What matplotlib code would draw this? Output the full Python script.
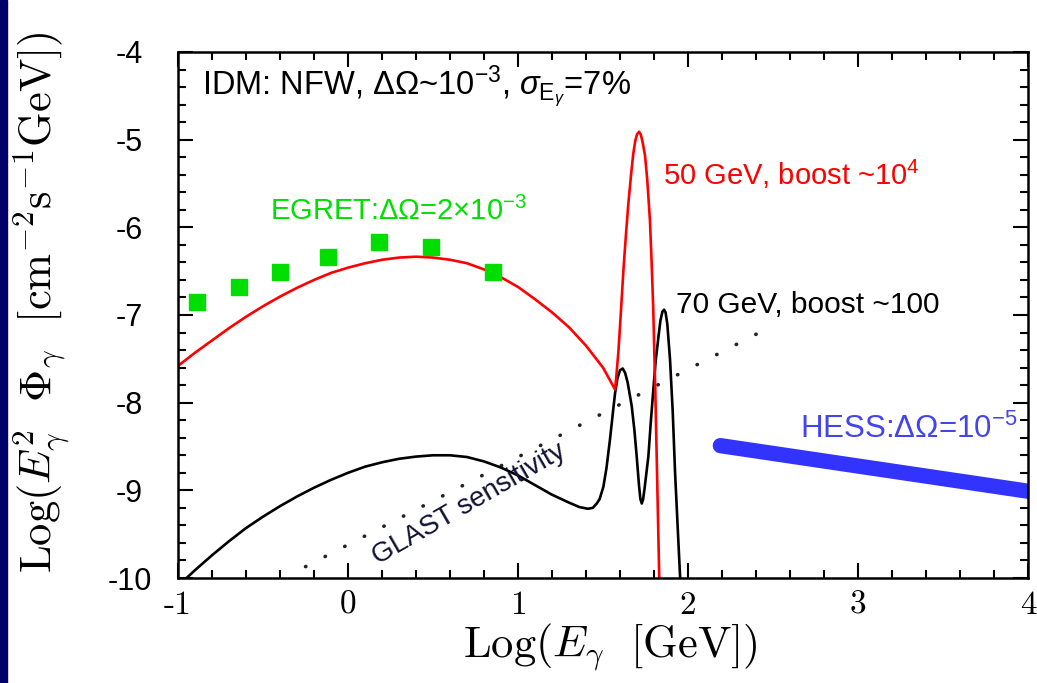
import matplotlib
matplotlib.use('Agg')
import matplotlib.pyplot as plt
from matplotlib.ticker import MultipleLocator
from matplotlib.patches import Rectangle

# data (log10 units)
red_x = [-1.00, -0.90, -0.80, -0.70, -0.60, -0.50, -0.40, -0.30, -0.20, -0.10,
         0.00, 0.10, 0.20, 0.30, 0.40, 0.50, 0.60, 0.70, 0.80, 0.90,
         1.00, 1.10, 1.20, 1.30, 1.40, 1.50, 1.571, 1.58, 1.59, 1.60,
         1.61, 1.62, 1.635, 1.649, 1.665, 1.678, 1.69, 1.70, 1.712, 1.722,
         1.732, 1.747, 1.76, 1.776, 1.786, 1.795, 1.808, 1.82, 1.833]
red_y = [-7.58, -7.43, -7.29, -7.15, -7.02, -6.90, -6.79, -6.69, -6.60, -6.52,
         -6.46, -6.41, -6.37, -6.345, -6.335, -6.345, -6.37, -6.41, -6.48, -6.57,
         -6.68, -6.82, -6.97, -7.14, -7.35, -7.60, -7.85, -7.66, -7.43, -7.13,
         -6.81, -6.49, -6.08, -5.73, -5.40, -5.16, -5.01, -4.94, -4.91, -4.94,
         -5.02, -5.18, -5.45, -5.92, -6.40, -6.90, -7.90, -9.00, -10.2]

blk_x = [-0.95, -0.90, -0.80, -0.70, -0.60, -0.50, -0.40, -0.30, -0.20, -0.10,
         0.00, 0.10, 0.20, 0.30, 0.40, 0.50, 0.60, 0.70, 0.80, 0.90,
         1.00, 1.10, 1.20, 1.30, 1.36, 1.41, 1.44, 1.463, 1.48, 1.502,
         1.52, 1.541, 1.56, 1.571, 1.585, 1.60, 1.616, 1.63, 1.645, 1.669,
         1.685, 1.698, 1.712, 1.72, 1.728, 1.736, 1.745, 1.767, 1.78, 1.796,
         1.81, 1.826, 1.838, 1.85, 1.859, 1.868, 1.878, 1.894, 1.91, 1.924,
         1.94, 1.955]
blk_y = [-10.0, -9.91, -9.74, -9.58, -9.43, -9.30, -9.18, -9.07, -8.97, -8.88,
         -8.80, -8.73, -8.68, -8.64, -8.615, -8.60, -8.60, -8.62, -8.67, -8.74,
         -8.83, -8.94, -9.05, -9.14, -9.19, -9.21, -9.20, -9.15, -9.10, -8.96,
         -8.75, -8.42, -8.08, -7.89, -7.72, -7.63, -7.61, -7.66, -7.77, -8.04,
         -8.32, -8.61, -8.95, -9.10, -9.15, -9.10, -8.97, -8.61, -8.25, -7.85,
         -7.52, -7.25, -7.06, -6.96, -6.94, -6.97, -7.10, -7.50, -8.10, -8.80,
         -9.45, -10.05]

egret_x = [-0.89, -0.64, -0.40, -0.12, 0.18, 0.49, 0.85]
egret_y = [-6.85, -6.68, -6.51, -6.34, -6.17, -6.23, -6.51]

glast_x = [-0.25, 2.42]
glast_y = [-9.87, -7.20]

hess_x = [2.19, 4.0]
hess_y = [-8.49, -9.01]

xticks = [-1, 0, 1, 2, 3, 4]
yticks = [-4, -5, -6, -7, -8, -9, -10]

plt.rcParams['axes.unicode_minus'] = False
plt.rcParams['mathtext.fontset'] = 'custom'
plt.rcParams['mathtext.rm'] = 'Liberation Sans'
plt.rcParams['mathtext.it'] = 'Liberation Sans:italic'
plt.rcParams['mathtext.bf'] = 'Liberation Sans:bold'
plt.rcParams['font.family'] = ['Liberation Sans', 'DejaVu Sans']

fig = plt.figure(figsize=(10.37, 6.83), dpi=100)
fig.patches.append(Rectangle((0, 0), 7 / 1037, 1, transform=fig.transFigure,
                             color='#000066', zorder=0))
ax = fig.add_axes([0.1717, 0.1537, 0.8196, 0.7702])

ax.plot(glast_x, glast_y, color='#222222', lw=2.6, linestyle=(0, (0.1, 6.0)),
        dash_capstyle='round')
ax.plot(hess_x, hess_y, color='#3333ff', lw=11, solid_capstyle='round')
ax.plot(blk_x, blk_y, color='black', lw=1.9)
ax.plot(red_x, red_y, color='red', lw=1.9)
ax.plot(egret_x, egret_y, 's', color='#00dd00', ms=11, mec='#00dd00')

ax.set_xlim(-1, 4)
ax.set_ylim(-10, -4)

ax.set_xticks(xticks, labels=[str(v) for v in xticks], fontfamily='cmr10', fontsize=24)
ax.set_yticks(yticks, labels=[str(v) for v in yticks], fontsize=22, ha='center')
ax.xaxis.set_minor_locator(MultipleLocator(0.2))
ax.yaxis.set_minor_locator(MultipleLocator(0.2))
ax.tick_params(which='both', direction='in', top=True, right=True, width=1.5)
ax.tick_params(which='major', length=11)
ax.tick_params(which='minor', length=5.5)
ax.tick_params(axis='x', pad=9)
ax.tick_params(axis='y', pad=35)
for s in ax.spines.values():
    s.set_linewidth(1.8)

ax.set_xlabel(r'$\mathrm{Log}(E_\gamma\ \ [\mathrm{GeV}])$', fontsize=32, math_fontfamily='cm')
ax.set_ylabel(r'$\mathrm{Log}(E_\gamma^2\ \ \Phi_\gamma\ \ [\mathrm{cm}^{-2}\mathrm{s}^{-1}\mathrm{GeV}])$',
              fontsize=32, math_fontfamily='cm')
ax.xaxis.set_label_coords(0.508, -0.082)
ax.yaxis.set_label_coords(-0.125, 0.525)

ax.text(-0.86, -4.49, r'IDM: NFW, $\Delta\Omega$~10$^{-3}$, $\sigma_{\mathrm{E}_\gamma}$=7%',
        fontsize=23.5, va='baseline')
ax.text(-0.46, -5.92, r'EGRET:$\Delta\Omega$=2$\times$10$^{-3}$', color='#00e000',
        fontsize=21, va='baseline')
ax.text(1.85, -5.52, r'50 GeV, boost ~10$^4$', color='red', fontsize=21, va='baseline')
ax.text(1.93, -6.98, '70 GeV, boost ~100', color='black', fontsize=21.5, va='baseline')
ax.text(2.66, -8.40, r'HESS:$\Delta\Omega$=10$^{-5}$', color='#4444ee', fontsize=22.5,
        va='baseline')
ax.text(0.71, -9.16, 'GLAST sensitivity', fontsize=20, rotation=30,
        ha='center', va='center', color='#111133')

fig.savefig('out.png', dpi=100)
